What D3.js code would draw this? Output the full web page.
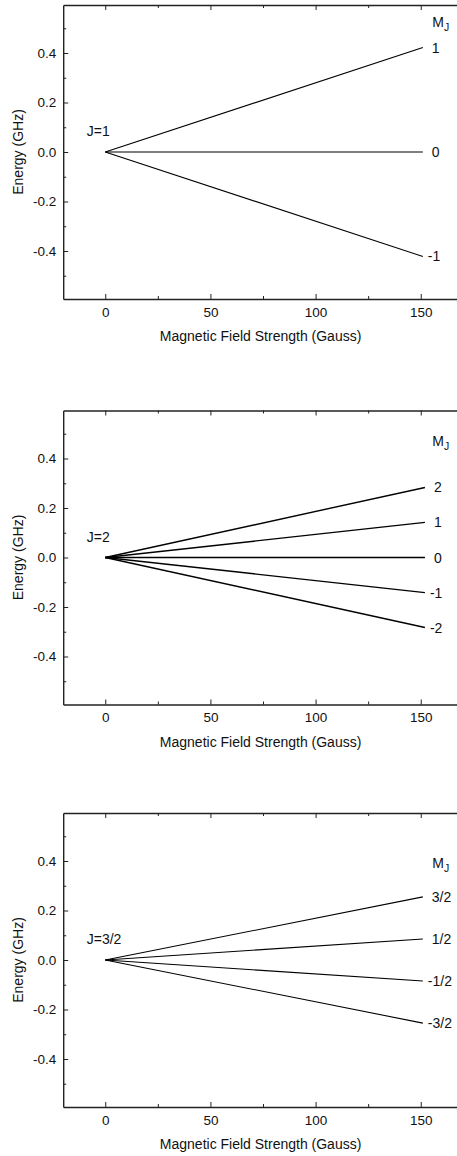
<!DOCTYPE html>
<html>
<head>
<meta charset="utf-8">
<script src="https://cdn.jsdelivr.net/npm/d3@7"></script>
<style>
  body { margin: 0; background: #fff; }
  svg { display: block; font-family: "Liberation Sans", Arial, sans-serif; }
  .axis path, .axis line { stroke: #222; }
  .axis path { stroke-width: 1.4; }
  .axis text { font-size: 13.5px; fill: #111; font-family: "Liberation Sans", Arial, sans-serif; }
  .lbl { font-size: 14px; fill: #111; }
</style>
</head>
<body>
<div id="canvas"></div>
<script>
// field value at which every level ends (Gauss)
const fieldEnd = [151, 152, 151];

// panel labels
const jLabels = ["J=1", "J=2", "J=3/2"];

// M_J labels and energies at the end of the sweep (GHz)
const mjJ1 = ["1", "0", "-1"];
const eJ1 = [0.422, 0, -0.422];
const mjJ2 = ["2", "1", "0", "-1", "-2"];
const eJ2 = [0.283, 0.142, 0, -0.142, -0.283];
const mjJ32 = ["3/2", "1/2", "-1/2", "-3/2"];
const eJ32 = [0.255, 0.085, -0.085, -0.255];

// height (GHz) of the "M_J" header in each panel
const headerE = [0.505, 0.45, 0.37];

const xTicks = [0, 50, 100, 150];
const xMinor = [25, 75, 125];
const yTicks = [-0.4, -0.2, 0.0, 0.2, 0.4];
const yMinor = [-0.5, -0.3, -0.1, 0.1, 0.3, 0.5];

const panels = [
  {mj: mjJ1, e: eJ1},
  {mj: mjJ2, e: eJ2},
  {mj: mjJ32, e: eJ32}
];

const W = 457, H = 1156;
const tops = [5, 410.5, 813];
const plotH = 294;
const left = 63.2, right = 462.8;

let svg = d3.select("#canvas").append("svg")
  .attr("width", W)
  .attr("height", H);

let x = d3.scaleLinear().domain([-20, 170]).range([left, right]);

panels.forEach(function(p, i) {
  let top = tops[i];
  let y = d3.scaleLinear().domain([-0.594, 0.594]).range([top + plotH, top]);
  let g = svg.append("g");

  // minor ticks first
  g.append("g").attr("class", "axis")
    .attr("transform", "translate(0," + (top + plotH) + ")")
    .call(d3.axisBottom(x).tickValues(xMinor).tickSize(-3).tickFormat(""))
    .select("path").remove();
  g.append("g").attr("class", "axis")
    .attr("transform", "translate(0," + top + ")")
    .call(d3.axisTop(x).tickValues(xMinor).tickSize(-3).tickFormat(""))
    .select("path").remove();
  g.append("g").attr("class", "axis")
    .attr("transform", "translate(" + left + ",0)")
    .call(d3.axisLeft(y).tickValues(yMinor).tickSize(-3).tickFormat(""))
    .select("path").remove();
  g.append("g").attr("class", "axis")
    .attr("transform", "translate(" + right + ",0)")
    .call(d3.axisRight(y).tickValues(yMinor).tickSize(-3).tickFormat(""))
    .select("path").remove();

  // major axes
  g.append("g").attr("class", "axis")
    .attr("transform", "translate(0," + (top + plotH) + ")")
    .call(d3.axisBottom(x).tickValues(xTicks).tickSizeInner(-5).tickSizeOuter(0).tickPadding(8));
  g.append("g").attr("class", "axis")
    .attr("transform", "translate(0," + top + ")")
    .call(d3.axisTop(x).tickValues(xTicks).tickSizeInner(-5).tickSizeOuter(0).tickFormat(""));
  g.append("g").attr("class", "axis")
    .attr("transform", "translate(" + left + ",0)")
    .call(d3.axisLeft(y).tickValues(yTicks).tickSizeInner(-5).tickSizeOuter(0).tickPadding(7)
      .tickFormat(d => d.toFixed(1)));
  g.append("g").attr("class", "axis")
    .attr("transform", "translate(" + right + ",0)")
    .call(d3.axisRight(y).tickValues(yTicks).tickSizeInner(-5).tickSizeOuter(0).tickFormat(""));

  // axis titles
  g.append("text").attr("class", "lbl")
    .attr("x", (left + 458) / 2)
    .attr("y", top + plotH + 42)
    .attr("text-anchor", "middle")
    .text("Magnetic Field Strength (Gauss)");
  g.append("text").attr("class", "lbl")
    .attr("transform", "translate(23," + (top + plotH / 2) + ") rotate(-90)")
    .attr("text-anchor", "middle")
    .text("Energy (GHz)");

  // Zeeman levels
  let line = d3.line().x(d => x(d[0])).y(d => y(d[1]));
  p.e.forEach(function(e, k) {
    g.append("path")
      .attr("d", line([[0, 0], [fieldEnd[i], e]]))
      .attr("fill", "none")
      .attr("stroke", "#000")
      .attr("stroke-width", i == 1 ? 1.4 : 1.1);
    g.append("text").attr("class", "lbl")
      .attr("x", x(fieldEnd[i]) + (p.mj[k][0] == "-" ? 5 : 9))
      .attr("y", y(e) + 5)
      .text(p.mj[k]);
  });

  // labels
  g.append("text").attr("class", "lbl")
    .attr("x", x(-8.8))
    .attr("y", y(0.063))
    .text(jLabels[i]);
  let hdr = g.append("text").attr("class", "lbl")
    .attr("x", x(155.5))
    .attr("y", y(headerE[i]));
  hdr.append("tspan").text("M");
  hdr.append("tspan").attr("dy", 4).style("font-size", "10.5px").text("J");
});
</script>
</body>
</html>
